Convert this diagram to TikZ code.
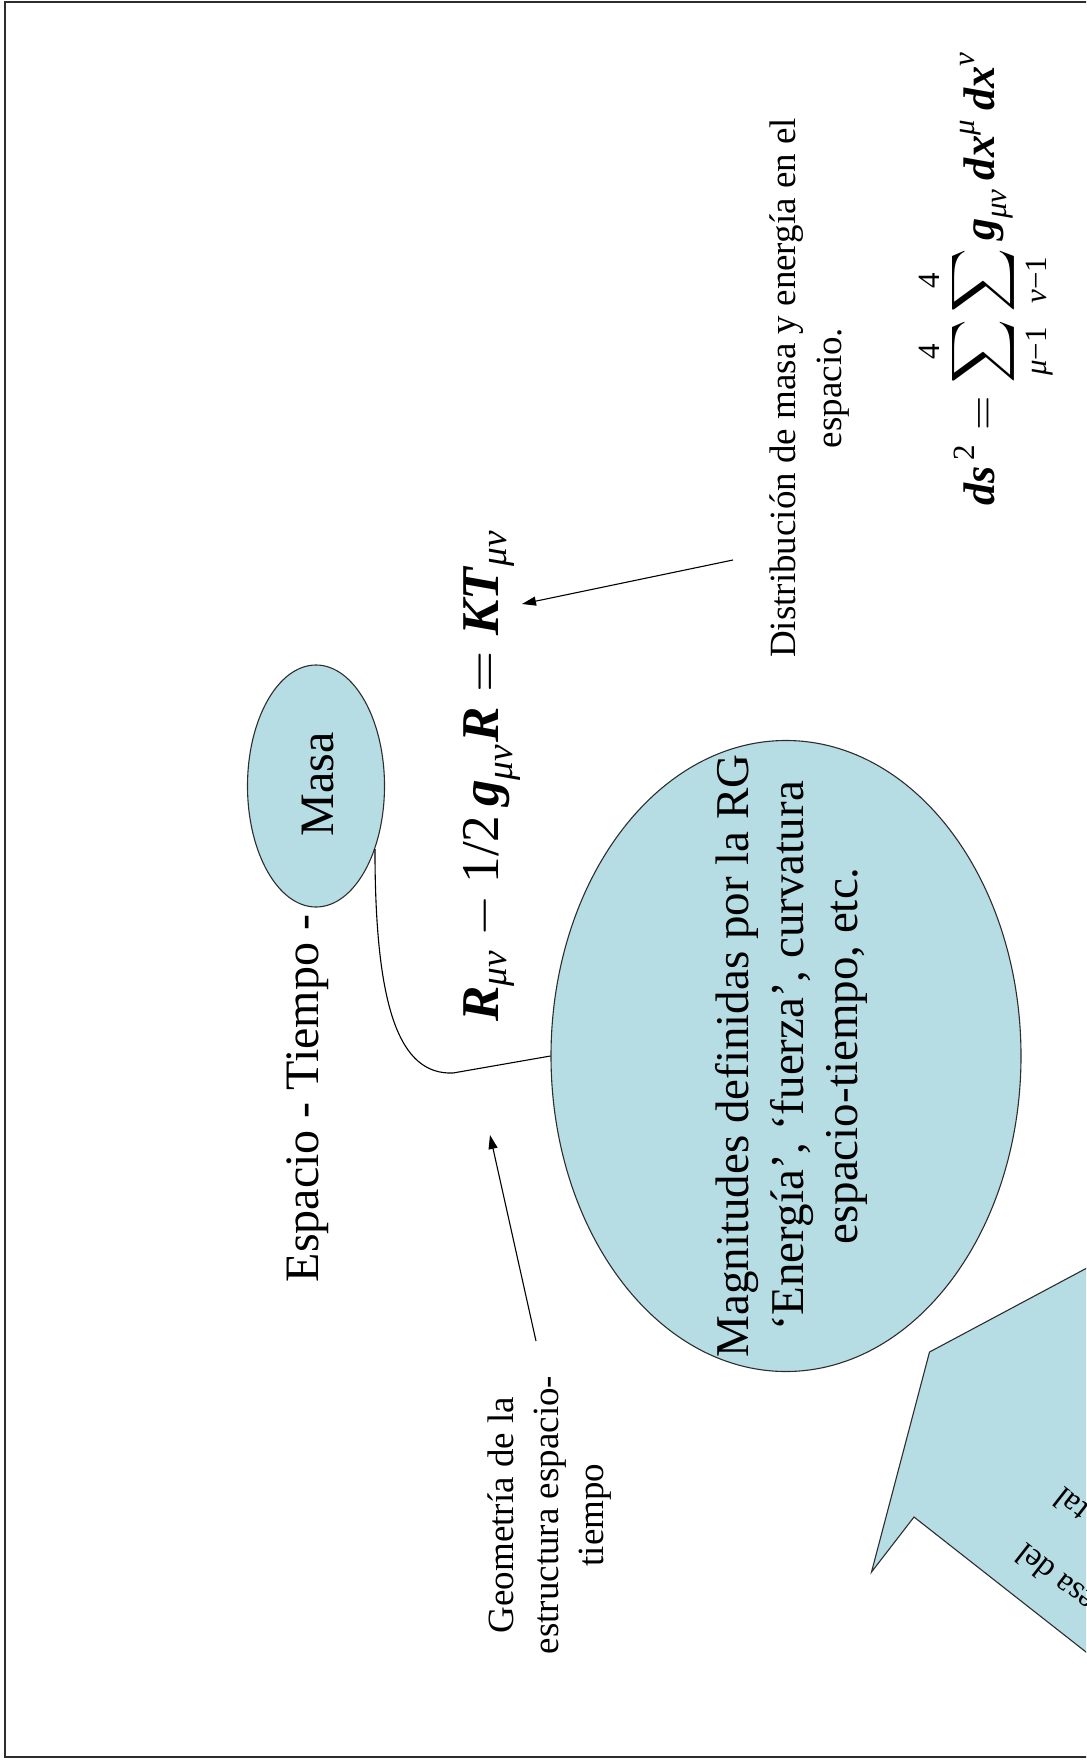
\documentclass[tikz,border=0pt]{standalone}
\usepackage{amsmath}
\usepackage{graphicx}
\usepackage{fontspec}
\setmainfont{Liberation Serif}
\usetikzlibrary{shapes.geometric,arrows.meta}
\definecolor{fillblue}{RGB}{183,221,228}
\definecolor{edgegray}{RGB}{45,45,45}
\newcommand\bi[1]{\textbf{\textit{#1}}}
\newcommand\gi[1]{\textit{#1}}
\begin{document}
\begin{tikzpicture}[x=1pt,y=-1pt,
  shapebox/.style={draw=edgegray, line width=1.1pt, fill=fillblue, ellipse, inner sep=0pt},
  lbl/.style={rotate=90, inner sep=0pt, align=center},
  conn/.style={draw=black, line width=1.1pt},
  arr/.style={conn, -{Triangle[length=14pt,width=9pt]}},
  calltext/.style={rotate=142, anchor=base east, inner sep=0pt, font=\fontsize{33}{40}\selectfont}
]
\clip (0,0) rectangle (1086,1760);
\draw[edgegray, line width=1.5pt] (1095,2) -- (5,2) -- (5,1757) -- (1095,1757);

% callout (partly off the page)
\draw[draw=edgegray, line width=1.1pt, fill=fillblue]
  (1100,1261) -- (929.5,1352) -- (871.5,1572) -- (914,1517) -- (1100,1663) -- cycle;
\node[calltext] (c1) at (1026,1542) {esa del};
\node[calltext] (c2) at (1064,1486) {tal};

% ellipses
\node[shapebox, minimum width=137pt, minimum height=242pt] (masa) at (316,786) {};
\node[shapebox, minimum width=470pt, minimum height=631pt] (big) at (786,1056) {};

% texts
\node[lbl, anchor=base, font=\fontsize{48}{56}\selectfont] (masatext) at (333,784.5) {Masa};
\node[lbl, anchor=base, font=\fontsize{48}{56}\selectfont] (esp) at (318,1098.5) {Espacio - Tiempo -};
\node[lbl, font=\fontsize{47}{54.5}\selectfont] (bigtext) at (791.5,1056)
  {Magnitudes definidas por la RG\\‘Energía’, ‘fuerza’, curvatura\\espacio-tiempo, etc.};
\node[lbl, font=\fontsize{37}{46}\selectfont] (dist) at (809.5,388)
  {Distribución de masa y energía en el\\espacio.};
\node[lbl, font=\fontsize{37}{45}\selectfont] (geo) at (549.5,1515)
  {Geometría de la\\estructura espacio-\\tiempo};

% formulas
\node[rotate=90, inner sep=0pt] (einst) at (492,775)
  {\resizebox{493pt}{!}{$\bi{R}_{\gi{μν}}-\text{1/2}\,\bi{g}_{\gi{μν}}\bi{R}=\bi{KT}_{\gi{μν}}$}};
\node[rotate=90, inner sep=0pt] (ds) at (986,278)
  {\resizebox{455pt}{!}{$\displaystyle \bi{ds}^{\,\text{2}}=\sum_{\gi{μ}\text{−1}}^{\text{4}}\sum_{\gi{ν}\text{−1}}^{\text{4}}\bi{g}_{\gi{μν}}\,\bi{dx}^{\gi{μ}}\,\bi{dx}^{\gi{ν}}$}};

% connectors
\coordinate (distTail) at (733,560);
\coordinate (distHead) at (522,604);
\coordinate (geoTail) at (536,1341);
\coordinate (geoHead) at (490,1135);
\coordinate (bend) at (453,1073);
\draw[arr] (distTail) -- (distHead);
\draw[arr] (geoTail) -- (geoHead);
\draw[conn] (masa.-47) .. controls (375,1010) and (400,1075) .. (bend) -- (big.west);
\end{tikzpicture}
\end{document}
